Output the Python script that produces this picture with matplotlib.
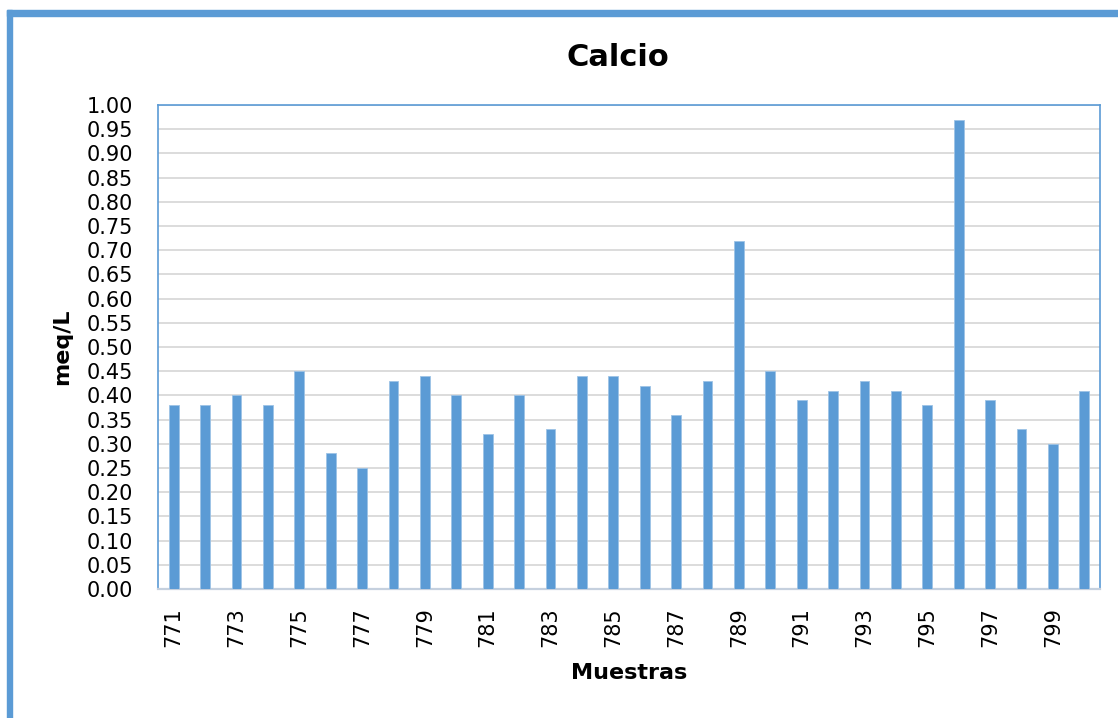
import matplotlib
matplotlib.use("Agg")
import matplotlib.pyplot as plt
from matplotlib.patches import Rectangle

# Calcium concentration per sample
muestras = list(range(771, 801))
calcio = [0.38, 0.38, 0.40, 0.38, 0.45, 0.28, 0.25, 0.43, 0.44, 0.40,
          0.32, 0.40, 0.33, 0.44, 0.44, 0.42, 0.36, 0.43, 0.72, 0.45,
          0.39, 0.41, 0.43, 0.41, 0.38, 0.97, 0.39, 0.33, 0.30, 0.41]
etiquetas_x = list(range(771, 801, 2))
titulo = "Calcio"
eje_x = "Muestras"
eje_y = "meq/L"

W, H = 1118, 718
fig = plt.figure(figsize=(W / 100, H / 100), dpi=100)
fig.patch.set_facecolor("white")

blue = "#5b9bd5"

# Outer frame: thick blue lines along the top and left edges
fig.patches.append(Rectangle((7 / W, 1 - 16 / H), (W - 7) / W, 6 / H,
                             transform=fig.transFigure, color=blue, zorder=0))
fig.patches.append(Rectangle((7 / W, 0), 5 / W, 1 - 10 / H,
                             transform=fig.transFigure, color=blue, zorder=0))

left, right, top, bottom = 158, 1100, 105, 589
ax = fig.add_axes([left / W, 1 - bottom / H, (right - left) / W, (bottom - top) / H])

ax.bar(muestras, calcio, width=0.31, color=blue, edgecolor="#9dc3e6",
       linewidth=0.6, zorder=3)

ax.set_xlim(770.5, 800.5)
ax.set_ylim(0, 1.0)
ax.set_yticks([i * 0.05 for i in range(21)])
ax.set_yticklabels([f"{i * 0.05:.2f}" for i in range(21)])
ax.set_xticks(etiquetas_x)
ax.set_xticklabels([str(v) for v in etiquetas_x], rotation=90)

ax.tick_params(axis="y", length=0, pad=18, labelsize=15)
ax.tick_params(axis="x", length=0, pad=13, labelsize=15)

ax.grid(axis="y", color="#d9d9d9", linewidth=1.3, zorder=0)
ax.set_axisbelow(True)

for side in ("left", "top", "right"):
    ax.spines[side].set_color(blue)
    ax.spines[side].set_linewidth(1.2)
ax.spines["bottom"].set_color("#c5d0de")
ax.spines["bottom"].set_linewidth(1.6)

ax.set_xlabel(eje_x, fontsize=16, fontweight="bold", va="center")
ax.xaxis.set_label_coords(0.5, (bottom - 673) / (bottom - top))
ax.set_ylabel(eje_y, fontsize=16, fontweight="bold", va="center", ha="center")
ax.yaxis.set_label_coords((62 - left) / (right - left), 0.5)

fig.text(618 / W, 1 - 57 / H, titulo, fontsize=22, fontweight="bold",
         ha="center", va="center")

fig.savefig("out.png", dpi=100)
